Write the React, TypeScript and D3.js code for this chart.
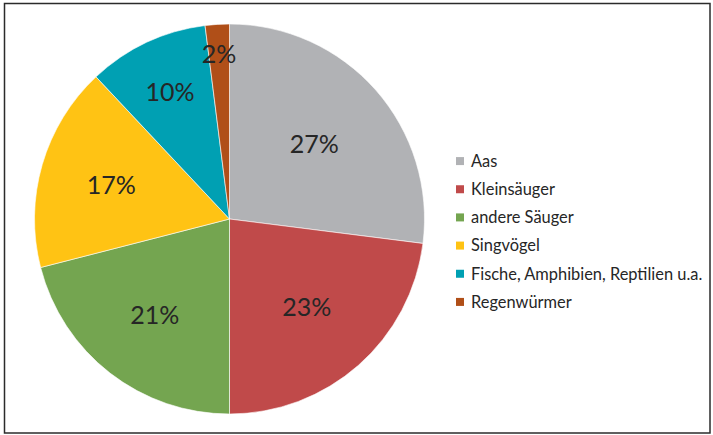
import React, { useRef, useEffect } from 'react';
import * as d3 from 'd3';

const categories = ['Aas', 'Kleinsäuger', 'andere Säuger', 'Singvögel', 'Fische, Amphibien, Reptilien u.a.', 'Regenwürmer'];
const values = [27, 23, 21, 17, 10, 2];
const colors = ['#B1B2B5', '#C04A4A', '#74A550', '#FFC314', '#00A0B3', '#B04F18'];
// label distance from centre, Excel pushes the small slices outward
const labelRadius = [113, 117, 122, 123, 140, 165];

const W = 713;
const H = 435;

export default function App() {
  const ref = useRef<SVGGElement>(null);

  useEffect(() => {
    const root = d3.select(ref.current);
    root.selectAll('*').remove();

    const cx = 229.5, cy = 219, r = 195;
    const g = root.append('g').attr('transform', `translate(${cx},${cy})`);

    const pie = d3.pie<number>().sort(null).value(d => d);
    const arcs = pie(values);
    const arc = d3.arc<d3.PieArcDatum<number>>().innerRadius(0).outerRadius(r);

    g.selectAll('path.slice')
      .data(arcs)
      .enter()
      .append('path')
      .attr('class', 'slice')
      .attr('d', d => arc(d) as string)
      .attr('fill', (d, i) => colors[i])
      .attr('stroke', '#fff')
      .attr('stroke-width', 0.6);

    g.selectAll('text.lbl')
      .data(arcs)
      .enter()
      .append('text')
      .attr('class', 'lbl')
      .attr('transform', (d, i) => {
        const a = (d.startAngle + d.endAngle) / 2;
        const lr = labelRadius[i];
        return `translate(${Math.sin(a) * lr},${-Math.cos(a) * lr})`;
      })
      .attr('text-anchor', 'middle')
      .attr('dy', '0.36em')
      .attr('font-family', 'Lato, sans-serif')
      .attr('font-size', 25)
      .attr('fill', '#262626')
      .text(d => `${d.data}%`);

    // legend
    const ly = d3.scaleBand<string>().domain(categories).range([147, 316]);
    const item = root.append('g').selectAll('g.item')
      .data(categories)
      .enter()
      .append('g')
      .attr('class', 'item')
      .attr('transform', d => `translate(0,${(ly(d) as number) + ly.bandwidth() / 2})`);
    item.append('rect')
      .attr('x', 456).attr('y', -4)
      .attr('width', 8).attr('height', 8)
      .attr('fill', (d, i) => colors[i]);
    item.append('text')
      .attr('x', 471)
      .attr('dy', '0.35em')
      .attr('font-family', 'Lato, sans-serif')
      .attr('font-size', 16.4)
      .attr('fill', '#262626')
      .text(d => d);
  }, []);

  return (
    <svg width={W} height={H} style={{ display: 'block', position: 'absolute', left: 0, top: 0 }}>
      <rect x={4.5} y={3.5} width={705.5} height={429.5} fill="#fff" stroke="#2b2b2b" strokeWidth={1.5} />
      <g ref={ref} />
    </svg>
  );
}
